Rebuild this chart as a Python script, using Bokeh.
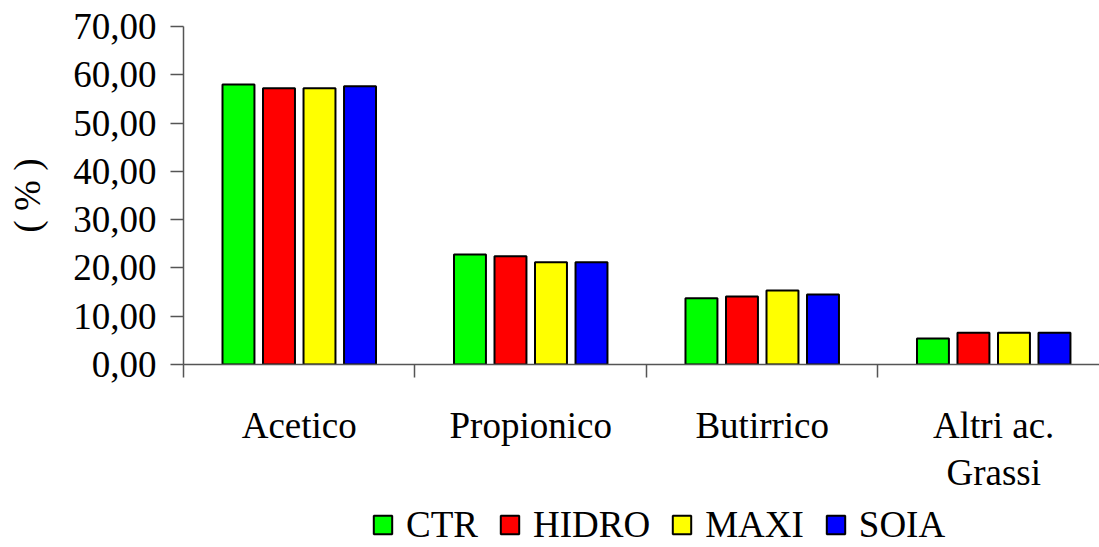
from bokeh.plotting import figure
from bokeh.models import (Range1d, FixedTicker, LinearAxis, Legend, LegendItem)
from bokeh.layouts import column
from bokeh.embed import file_html
from bokeh.resources import INLINE

# Volatile fatty acids composition (%)
categories = ["Acetico", "Propionico", "Butirrico", "Altri ac.\nGrassi"]
groups = ["CTR", "HIDRO", "MAXI", "SOIA"]
colors = ["#00FF00", "#FF0000", "#FFFF00", "#0000FF"]
values = {
    "CTR":   [58.0, 22.8, 13.7, 5.4],
    "HIDRO": [57.2, 22.4, 14.1, 6.6],
    "MAXI":  [57.2, 21.2, 15.3, 6.6],
    "SOIA":  [57.6, 21.2, 14.5, 6.6],
}
y_ticks = [0, 10, 20, 30, 40, 50, 60, 70]
y_tick_labels = ["0,00", "10,00", "20,00", "30,00", "40,00", "50,00", "60,00", "70,00"]

FONT = "Liberation Serif"
AXIS_COLOR = "#555555"
W, H_MAIN, H_LEG = 1099, 507, 40

p = figure(width=W, height=H_MAIN, output_backend="svg", toolbar_location=None,
           x_range=Range1d(0, 3.957), y_range=Range1d(0, 70),
           x_axis_type=None, y_axis_type=None,
           min_border_left=183, min_border_right=0, min_border_top=26,
           min_border_bottom=H_MAIN - 364)
p.outline_line_color = None
p.background_fill_color = "white"
p.border_fill_color = "white"
p.grid.visible = False

# y axis
yaxis = LinearAxis(ticker=FixedTicker(ticks=y_ticks),
                   major_label_overrides={t: l for t, l in zip(y_ticks, y_tick_labels)})
yaxis.major_tick_in = 0
yaxis.major_tick_out = 13
yaxis.minor_tick_line_color = None
yaxis.axis_line_color = AXIS_COLOR
yaxis.major_tick_line_color = AXIS_COLOR
yaxis.axis_line_width = 1.5
yaxis.major_tick_line_width = 1.5
yaxis.major_label_text_font = FONT
yaxis.major_label_text_font_size = "37px"
yaxis.major_label_text_color = "black"
yaxis.major_label_standoff = 14
yaxis.axis_label = "( % )"
yaxis.axis_label_text_font = FONT
yaxis.axis_label_text_font_size = "37px"
yaxis.axis_label_text_font_style = "normal"
yaxis.axis_label_text_color = "black"
yaxis.axis_label_standoff = 22
p.add_layout(yaxis, "left")

# x axis: category boundaries with tick marks
xaxis = LinearAxis(ticker=FixedTicker(ticks=[0, 1, 2, 3, 4]),
                   major_label_overrides={0: "", 1: "", 2: "", 3: "", 4: ""})
xaxis.major_tick_in = 0
xaxis.major_tick_out = 13
xaxis.minor_tick_line_color = None
xaxis.axis_line_color = AXIS_COLOR
xaxis.major_tick_line_color = AXIS_COLOR
xaxis.axis_line_width = 1.5
xaxis.major_tick_line_width = 1.5
xaxis.major_label_text_font_size = "1px"
xaxis.major_label_standoff = 0
p.add_layout(xaxis, "below")

# category names centred in each slot
centers = [i + 0.5 for i in range(len(categories))]
caxis = LinearAxis(ticker=FixedTicker(ticks=centers),
                   major_label_overrides={c: n for c, n in zip(centers, categories)})
caxis.axis_line_color = None
caxis.major_tick_line_color = None
caxis.minor_tick_line_color = None
caxis.major_label_text_font = FONT
caxis.major_label_text_font_size = "37px"
caxis.major_label_text_color = "black"
caxis.major_label_text_line_height = 1.15
caxis.major_label_standoff = 21
p.add_layout(caxis, "below")

step = 0.175
bar_w = 0.138

# strip under the chart that holds the legend
leg_fig = figure(width=W, height=H_LEG, output_backend="svg", toolbar_location=None,
                 x_range=Range1d(0, 1), y_range=Range1d(0, 1),
                 x_axis_type=None, y_axis_type=None,
                 min_border=0)
leg_fig.outline_line_color = None
leg_fig.grid.visible = False

items = []
for k, (g, c) in enumerate(zip(groups, colors)):
    off = (k - 1.5) * step
    xs = [i + 0.5 + off for i in range(len(categories))]
    p.vbar(x=xs, top=values[g], width=bar_w, bottom=0,
           fill_color=c, line_color="black", line_width=2)
    swatch = leg_fig.vbar(x=xs, top=values[g], width=bar_w, bottom=0,
                          fill_color=c, line_color="black", line_width=2,
                          visible=False)
    items.append(LegendItem(label=g, renderers=[swatch]))

legend = Legend(items=items, orientation="horizontal", location=(188, 1))
legend.glyph_width = 23
legend.glyph_height = 23
legend.label_text_font = FONT
legend.label_text_font_size = "37px"
legend.label_text_color = "black"
legend.label_standoff = 12
legend.spacing = 20
legend.padding = 0
legend.margin = 0
legend.border_line_color = None
legend.background_fill_alpha = 0
legend.click_policy = "none"
leg_fig.add_layout(legend, "center")

open("out.html", "w").write(file_html(column(p, leg_fig, spacing=0), INLINE))
